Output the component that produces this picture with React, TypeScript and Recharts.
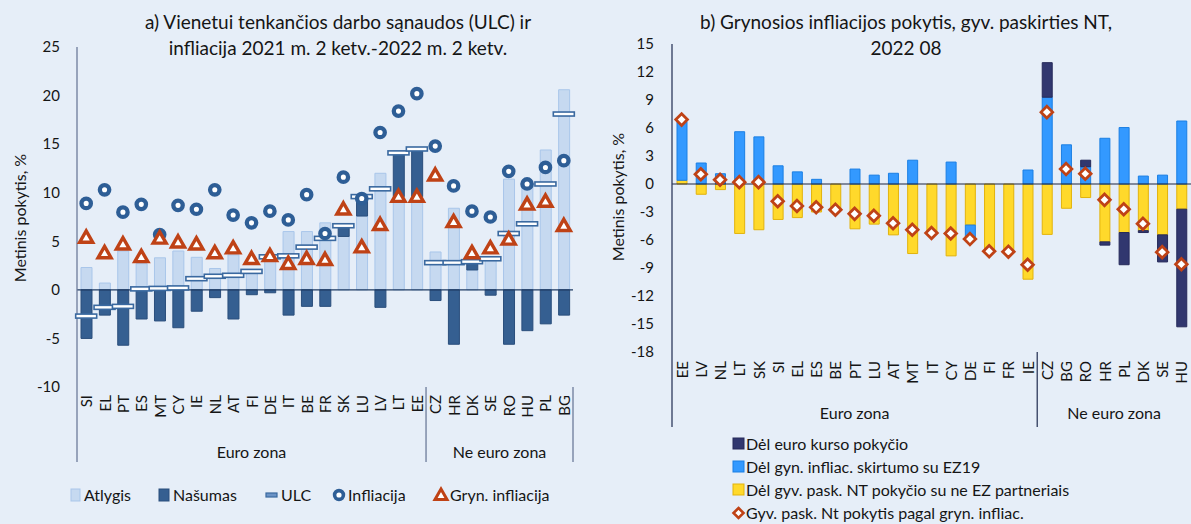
import React from 'react';
import { ComposedChart, Bar, Line, XAxis, YAxis, ReferenceLine } from 'recharts';

// a) ULC ir infliacija, 2021 m. 2 ketv. - 2022 m. 2 ketv.
const ulcCountries = ['SI', 'EL', 'PT', 'ES', 'MT', 'CY', 'IE', 'NL', 'AT', 'FI', 'DE', 'IT', 'BE', 'FR', 'SK', 'LU', 'LV', 'LT', 'EE', 'CZ', 'HR', 'DK', 'SE', 'RO', 'HU', 'PL', 'BG'];
const atlygis = [2.3, 0.7, 4.0, 2.7, 3.3, 4.0, 3.35, 2.2, 3.6, 2.05, 3.5, 6.0, 6.0, 6.9, 5.5, 7.6, 12.0, 9.6, 9.6, 3.9, 8.4, 2.05, 3.4, 11.4, 11.0, 14.4, 20.6];
// nasumo indelis i ULC (nasumo kritimas rodomas virs atlygio)
const nasumas = [-5.0, -2.6, -5.7, -3.0, -3.2, -3.9, -2.2, -0.8, -3.0, -0.5, -0.3, -2.6, -1.7, -1.7, 1.1, 2.0, -1.8, 4.5, 4.9, -1.1, -5.6, 0.8, -0.55, -5.6, -4.2, -3.5, -2.6];
const ulc = [-2.7, -1.8, -1.7, 0.1, 0.15, 0.2, 1.15, 1.4, 1.5, 1.9, 3.4, 3.5, 4.4, 5.3, 6.6, 9.6, 10.4, 14.1, 14.5, 2.8, 2.8, 2.9, 3.2, 5.8, 6.8, 10.9, 18.1];
const infliacija = [8.9, 10.3, 8.0, 8.8, 5.7, 8.7, 8.3, 10.3, 7.7, 6.9, 8.1, 7.2, 9.8, 5.8, 11.6, 9.4, 16.2, 18.4, 20.2, 14.8, 10.7, 8.1, 7.5, 12.2, 10.9, 12.6, 13.3];
const grynInfliacija = [5.4, 3.8, 4.7, 3.4, 5.3, 4.9, 4.7, 3.8, 4.3, 3.2, 3.5, 2.7, 3.2, 3.1, 8.3, 4.4, 6.7, 9.6, 9.6, 11.8, 7.0, 3.8, 4.3, 5.2, 8.8, 9.1, 6.6];
const ulcTicks = [-10, -5, 0, 5, 10, 15, 20, 25];

// b) Grynosios infliacijos pokytis, gyv. paskirties NT, 2022 08
const ntCountries = ['EE', 'LV', 'NL', 'LT', 'SK', 'SI', 'EL', 'ES', 'BE', 'PT', 'LU', 'AT', 'MT', 'IT', 'CY', 'DE', 'FI', 'FR', 'IE', 'CZ', 'BG', 'RO', 'HR', 'PL', 'DK', 'SE', 'HU'];
const kursoPokytis = [0, 0, 0, 0, 0, 0, 0, 0, 0, 0, 0, 0, 0, 0, 0, 0, 0, 0, 0, 3.7, 0, 0.7, -0.35, -3.45, -0.2, -2.9, -12.6];
const inflSkirtumas = [6.3, 2.25, 1.1, 5.6, 5.05, 1.95, 1.3, 0.5, 0, 1.6, 0.95, 1.15, 2.55, 0, 2.35, -1.5, 0, 0, 1.5, 9.3, 4.2, 1.85, 4.9, 6.05, 0.85, 0.95, 6.75];
const ntPokytis = [0.4, -1.1, -0.6, -5.3, -4.9, -3.8, -3.6, -3.0, -2.8, -4.8, -4.3, -5.45, -7.45, -5.25, -7.7, -4.4, -7.25, -7.25, -10.2, -5.4, -2.6, -1.45, -6.2, -5.2, -5.0, -5.45, -2.7];
const ntPagalGryn = [6.9, 1.05, 0.45, 0.2, 0.2, -1.85, -2.35, -2.5, -2.75, -3.2, -3.4, -4.2, -4.9, -5.25, -5.3, -5.9, -7.2, -7.25, -8.65, 7.7, 1.6, 1.1, -1.7, -2.7, -4.25, -7.3, -8.6];
const ntTicks = [-18, -15, -12, -9, -6, -3, 0, 3, 6, 9, 12, 15];

const EURO_COUNT = 19;

const ulcData = ulcCountries.map((c, i) => ({
  c, atlygis: atlygis[i], nasumas: nasumas[i], ulc: ulc[i], infl: infliacija[i], gryn: grynInfliacija[i],
}));
const ntData = ntCountries.map((c, i) => ({
  c, nt: ntPokytis[i], skirt: inflSkirtumas[i], kursas: kursoPokytis[i], total: ntPagalGryn[i],
}));

const FONT = 'Lato, "Open Sans", sans-serif';
const TXT = '#151515';
const BG = '#e6eef8';

const LIGHT = '#c6d9f0';
const DARK = '#355f91';
const CIRCLE = '#2e5e96';
const RED = '#bf4216';
const NAVY = '#31376f';
const BLUE = '#3399ff';
const YELLOW = '#ffd92b';

const UlcDot = (p: any) => {
  if (p.cx == null || p.cy == null) return null;
  return <rect key={p.index} x={p.cx - 10.5} y={p.cy - 2} width={21} height={4} fill="#fff" stroke="#3a69a0" strokeWidth={1.6} />;
};
const CircleDot = (p: any) => {
  if (p.cx == null || p.cy == null) return null;
  return <circle key={p.index} cx={p.cx} cy={p.cy} r={4.7} fill="#fff" stroke={CIRCLE} strokeWidth={4.3} />;
};
const TriangleDot = (p: any) => {
  if (p.cx == null || p.cy == null) return null;
  const { cx, cy } = p;
  return <path key={p.index} d={`M${cx},${cy - 6.5} L${cx + 6.5},${cy + 4.8} L${cx - 6.5},${cy + 4.8} Z`} fill="#fff" stroke={RED} strokeWidth={3.4} />;
};
const DiamondDot = (p: any) => {
  if (p.cx == null || p.cy == null) return null;
  const { cx, cy } = p;
  return <path key={p.index} d={`M${cx},${cy - 5.8} L${cx + 5.8},${cy} L${cx},${cy + 5.8} L${cx - 5.8},${cy} Z`} fill="#fff" stroke={RED} strokeWidth={2.8} />;
};

type TickOpts = { step: number; count: number; gap: number; sepTo: number; groupDy: number; closeRight: boolean; color: string };

const categoryTick = (o: TickOpts) => (props: any) => {
  const { x, y, payload, index } = props;
  const half = o.step / 2;
  const parts: React.ReactNode[] = [
    <text key="lbl" transform={`translate(${x},${y + o.gap}) rotate(-90)`} textAnchor="end" dominantBaseline="central"
      fontSize={15} fontFamily={FONT} fill={TXT}>{payload.value}</text>,
  ];
  const groupSize = index === 0 ? EURO_COUNT : index === EURO_COUNT ? o.count - EURO_COUNT : 0;
  if (groupSize) {
    parts.push(<line key="sep" x1={x - half} x2={x - half} y1={y} y2={y + o.sepTo} stroke={o.color} strokeWidth={1.3} />);
    parts.push(
      <text key="grp" x={x - half + groupSize * half} y={y + o.groupDy} textAnchor="middle" dominantBaseline="central"
        fontSize={16} fontFamily={FONT} fill={TXT}>{index === 0 ? 'Euro zona' : 'Ne euro zona'}</text>
    );
  }
  if (o.closeRight && index === o.count - 1) {
    parts.push(<line key="end" x1={x + half} x2={x + half} y1={y} y2={y + o.sepTo} stroke={o.color} strokeWidth={1.3} />);
  }
  return <g>{parts}</g>;
};

const rotLabel = (text: string, cx: number, cy: number) => (
  <div style={{ position: 'absolute', left: cx, top: cy, transform: 'translate(-50%, -50%) rotate(-90deg)', whiteSpace: 'nowrap', fontSize: 16, fontFamily: FONT, color: TXT }}>
    {text}
  </div>
);

const legendText: React.CSSProperties = { position: 'absolute', fontSize: 16, fontFamily: FONT, color: TXT, whiteSpace: 'nowrap', lineHeight: '18px' };
const titleStyle: React.CSSProperties = { position: 'absolute', top: 9, width: 500, textAlign: 'center', fontSize: 19, lineHeight: '26px', fontFamily: FONT, color: TXT };

export default function App() {
  const leftStep = 496 / ulcCountries.length;
  const rightStep = 519 / ntCountries.length;
  return (
    <div style={{ position: 'fixed', left: 0, top: 0, width: 1191, height: 524, background: BG, overflow: 'hidden' }}>
      {/* titles */}
      <div style={{ ...titleStyle, left: 88 }}>
        a) Vienetui tenkančios darbo sąnaudos (ULC) ir<br />infliacija 2021 m. 2 ketv.-2022 m. 2 ketv.
      </div>
      <div style={{ ...titleStyle, left: 656 }}>
        b) Grynosios infliacijos pokytis, gyv. paskirties NT,<br />2022 08
      </div>
      {rotLabel('Metinis pokytis, %', 19, 218)}
      {rotLabel('Metinis pokytis, %', 617, 197)}

      <div style={{ position: 'absolute', left: 0, top: 0 }}>
        <ComposedChart width={600} height={524} data={ulcData} stackOffset="sign"
          margin={{ top: 47, right: 27, bottom: 57, left: 37 }}>
          <XAxis dataKey="c" height={80} interval={0} axisLine={false} tickLine={false} tickSize={0} tickMargin={0}
            tick={categoryTick({ step: leftStep, count: ulcCountries.length, gap: 8, sepTo: 75, groupDy: 64, closeRight: true, color: '#6d7b9a' })} />
          <YAxis width={40} domain={[-10, 25]} ticks={ulcTicks} interval={0} tickLine={false} tickSize={0} tickMargin={17}
            axisLine={{ stroke: '#6d7b9a', strokeWidth: 1.3 }} tick={{ fontSize: 15, fontFamily: FONT, fill: TXT }} />
          <Bar dataKey="atlygis" stackId="a" barSize={11} fill={LIGHT} stroke="#a9c6ea" strokeWidth={1} isAnimationActive={false} />
          <Bar dataKey="nasumas" stackId="a" barSize={11} fill={DARK} stroke="#2a4e7c" strokeWidth={1} isAnimationActive={false} />
          <ReferenceLine y={0} stroke="#1f3b63" strokeWidth={1.2} />
          <Line dataKey="ulc" stroke="none" dot={UlcDot} activeDot={false} isAnimationActive={false} />
          <Line dataKey="infl" stroke="none" dot={CircleDot} activeDot={false} isAnimationActive={false} />
          <Line dataKey="gryn" stroke="none" dot={TriangleDot} activeDot={false} isAnimationActive={false} />
        </ComposedChart>
      </div>

      <div style={{ position: 'absolute', left: 600, top: 0 }}>
        <ComposedChart width={591} height={524} data={ntData} stackOffset="sign"
          margin={{ top: 44, right: 0, bottom: 92, left: 32 }}>
          <XAxis dataKey="c" height={80} interval={0} axisLine={false} tickLine={false} tickSize={0} tickMargin={0}
            tick={categoryTick({ step: rightStep, count: ntCountries.length, gap: 9, sepTo: 75, groupDy: 60, closeRight: false, color: '#2e3a5c' })} />
          <YAxis width={40} domain={[-18, 15]} ticks={ntTicks} interval={0} tickLine={false} tickSize={0} tickMargin={18}
            axisLine={{ stroke: '#2e3a5c', strokeWidth: 1.3 }} tick={{ fontSize: 15, fontFamily: FONT, fill: TXT }} />
          <Bar dataKey="nt" stackId="b" barSize={10} fill={YELLOW} stroke="#e2b30c" strokeWidth={1} isAnimationActive={false} />
          <Bar dataKey="skirt" stackId="b" barSize={10} fill={BLUE} stroke="#1b7fe3" strokeWidth={1} isAnimationActive={false} />
          <Bar dataKey="kursas" stackId="b" barSize={10} fill={NAVY} stroke="#262a5a" strokeWidth={1} isAnimationActive={false} />
          <ReferenceLine y={0} stroke="#1c2540" strokeWidth={1.2} />
          <Line dataKey="total" stroke="none" dot={DiamondDot} activeDot={false} isAnimationActive={false} />
        </ComposedChart>
      </div>

      {/* left legend */}
      <svg style={{ position: 'absolute', left: 0, top: 484 }} width={600} height={22}>
        <rect x={71} y={5} width={9} height={12} fill={LIGHT} stroke="#a9c6ea" />
        <rect x={159} y={5} width={10} height={12} fill={DARK} stroke="#2a4e7c" />
        <rect x={266} y={9} width={11} height={4} fill="#6b93c6" stroke="#3a69a0" strokeWidth={1.2} />
        <circle cx={339} cy={11} r={4.4} fill="#fff" stroke={CIRCLE} strokeWidth={3.6} />
        <path d="M441,5 L447,15.5 L435,15.5 Z" fill="#fff" stroke={RED} strokeWidth={3} />
      </svg>
      <div style={{ ...legendText, left: 84, top: 486 }}>Atlygis</div>
      <div style={{ ...legendText, left: 173, top: 486 }}>Našumas</div>
      <div style={{ ...legendText, left: 281, top: 486 }}>ULC</div>
      <div style={{ ...legendText, left: 348, top: 486 }}>Infliacija</div>
      <div style={{ ...legendText, left: 450, top: 486 }}>Gryn. infliacija</div>

      {/* right legend */}
      <svg style={{ position: 'absolute', left: 725, top: 432 }} width={24} height={92}>
        <rect x={8} y={6} width={11} height={11} fill={NAVY} stroke="#262a5a" />
        <rect x={8} y={29} width={11} height={11} fill={BLUE} stroke="#1b7fe3" />
        <rect x={8} y={52} width={11} height={11} fill={YELLOW} stroke="#e2b30c" />
        <path d="M13.5,76 L18.5,81 L13.5,86 L8.5,81 Z" fill="#fff" stroke={RED} strokeWidth={2.6} />
      </svg>
      <div style={{ ...legendText, left: 746, top: 435 }}>Dėl euro kurso pokyčio</div>
      <div style={{ ...legendText, left: 746, top: 458 }}>Dėl gyn. infliac. skirtumo su EZ19</div>
      <div style={{ ...legendText, left: 746, top: 481 }}>Dėl gyv. pask. NT pokyčio su ne EZ partneriais</div>
      <div style={{ ...legendText, left: 746, top: 504 }}>Gyv. pask. Nt pokytis pagal gryn. infliac.</div>
    </div>
  );
}
